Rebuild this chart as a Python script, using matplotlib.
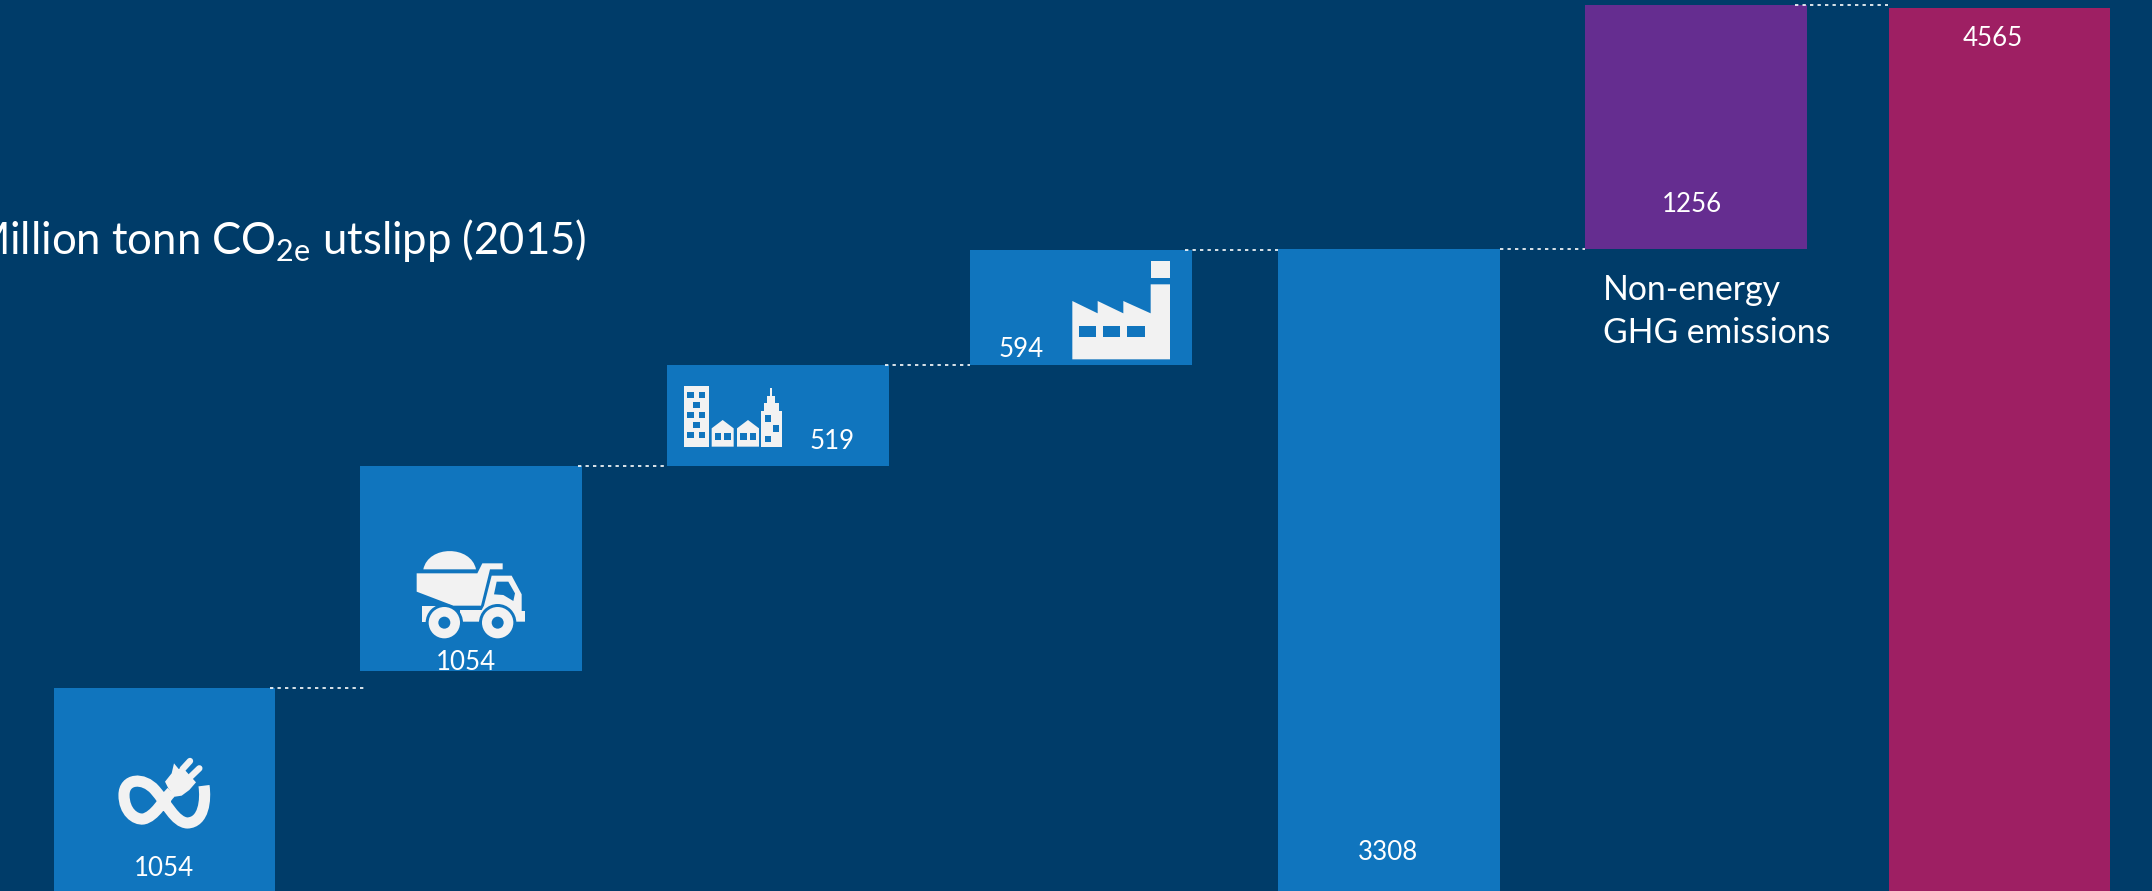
import matplotlib
matplotlib.use('Agg')
import matplotlib.pyplot as plt
from matplotlib.patches import Circle, PathPatch, Polygon, Rectangle
from matplotlib.path import Path

plt.rcParams['font.family'] = ['Lato', 'DejaVu Sans']
plt.rcParams['mathtext.fontset'] = 'custom'
plt.rcParams['mathtext.rm'] = 'Lato'

# Waterfall values (million tonnes)
values = [1054, 1054, 519, 594, 3308, 1256, 4565]
starts = [0, 1137, 2191, 2710, 0, 3308, -15]
labels = ['1054', '1054', '519', '594', '3308', '1256', '4565']
ghg_label = 'Non-energy\nGHG emissions'
title = r'Million tonn CO$_{\mathrm{2e}}$ utslipp (2015)'

BG = '#003C69'
BLUE = '#1075BE'
PURPLE = '#652D90'
CRIMSON = '#9E1F63'
WHITE = '#F2F2F2'

colors = [BLUE, BLUE, BLUE, BLUE, BLUE, PURPLE, CRIMSON]

# layout in pixels
bar_left = [53.5, 360, 667, 970, 1278, 1585, 1888.5]
bar_w = 221.5
label_xy = [(163.5, 869), (466, 662), (832.5, 441.5), (1021, 349.5), (1388, 853), (1691.5, 205), (1992.5, 38)]
links = [(270, 365, 0), (578, 667, 1), (885, 970, 2), (1185, 1278, 3), (1500, 1585, 4), (1795, 1888, 5)]

fig = plt.figure(figsize=(21.52, 8.91), dpi=100, facecolor=BG)

ax = fig.add_axes([0, 0, 1, 1], facecolor=BG)
ax.set_xlim(0, 2152)
ax.set_ylim(7.9, 4588.6)
ax.axis('off')

for i in range(len(values)):
    ax.bar(bar_left[i], values[i], width=bar_w, bottom=starts[i], color=colors[i], align='edge', zorder=2)

# dotted links between the steps
for x0, x1, i in links:
    level = starts[i] + values[i]
    ax.plot([x0, x1], [level, level], color='white', lw=1.2, ls=(0, (2, 2.5)), zorder=3)

# second layer in pixel coords for icons and text
pix = fig.add_axes([0, 0, 1, 1], facecolor='none')
pix.set_xlim(0, 2152)
pix.set_ylim(891, 0)
pix.axis('off')


def pts(ox, oy, coords):
    return [(ox + x / 3, oy + y / 3) for x, y in coords]


def poly(ox, oy, coords, color=WHITE):
    pix.add_patch(Polygon(pts(ox, oy, coords), closed=True, fc=color, ec='none'))


def box(ox, oy, x, y, w, h, color=BLUE):
    pix.add_patch(Rectangle((ox + x / 3, oy + y / 3), w / 3, h / 3, fc=color, ec='none'))


def disc(ox, oy, x, y, r, color=WHITE):
    pix.add_patch(Circle((ox + x / 3, oy + y / 3), r / 3, fc=color, ec='none'))


def plug_icon(ox, oy):
    loop = [(312, 122), (318, 165), (312, 232), (262, 234), (225, 232), (200, 175), (165, 135),
            (130, 95), (72, 100), (72, 150), (72, 200), (105, 225), (130, 222),
            (165, 215), (190, 165), (215, 140)]
    codes = [Path.MOVETO] + [Path.CURVE4] * 15
    pix.add_patch(PathPatch(Path(pts(ox, oy, loop), codes), fc='none', ec=WHITE, lw=8.0, capstyle='butt'))
    for a, b in [((248, 72), (270, 48)), ((272, 95), (298, 70))]:
        xs, ys = zip(*pts(ox, oy, [a, b]))
        pix.plot(xs, ys, color=WHITE, lw=4.6, solid_capstyle='round')
    poly(ox, oy, [(222, 55), (236, 72), (250, 70), (288, 112), (268, 135), (245, 152),
                  (225, 155), (205, 130), (195, 110), (215, 85)])


def truck_icon(ox, oy):
    dirt = [(70, 103), (85, 30), (213, 30), (228, 103), (70, 103)]
    dirt_codes = [Path.MOVETO, Path.CURVE4, Path.CURVE4, Path.CURVE4, Path.CLOSEPOLY]
    pix.add_patch(PathPatch(Path(pts(ox, oy, dirt), dirt_codes), fc=WHITE, ec='none'))
    poly(ox, oy, [(50, 115), (232, 115), (247, 85), (308, 85), (308, 103), (270, 103),
                  (243, 212), (160, 212), (50, 170)])
    poly(ox, oy, [(252, 212), (275, 122), (335, 122), (365, 178), (365, 228), (375, 228),
                  (375, 260), (180, 260), (180, 225), (245, 225)])
    poly(ox, oy, [(290, 140), (325, 140), (345, 175), (340, 198), (310, 180), (282, 178)], BLUE)
    box(ox, oy, 65, 212, 50, 48, WHITE)
    for x in (133, 293):
        disc(ox, oy, x, 263, 56, BLUE)
        disc(ox, oy, x, 263, 47)
        disc(ox, oy, x, 263, 18, BLUE)


def city_icon(ox, oy):
    box(ox, oy, 28, 33, 74, 182, WHITE)
    for x, y in [(37, 50), (71, 50), (54, 80), (37, 110), (71, 110), (54, 140), (37, 170), (71, 170)]:
        box(ox, oy, x, y, 20, 20)
    for x in (110, 186):
        poly(ox, oy, [(x, 215), (x, 160), (x + 33, 135), (x + 66, 160), (x + 66, 215)])
        box(ox, oy, x + 9, 175, 20, 20)
        box(ox, oy, x + 38, 175, 20, 20)
    poly(ox, oy, [(258, 215), (258, 108), (267, 108), (267, 85), (277, 85), (277, 62), (285, 62),
                  (285, 40), (292, 40), (292, 62), (300, 62), (300, 85), (311, 85), (311, 108),
                  (320, 108), (320, 215)])
    for x, y in [(269, 121), (293, 151), (269, 182)]:
        box(ox, oy, x, y, 19, 19)


def factory_icon(ox, oy):
    box(ox, oy, 272, 32, 58, 53, WHITE)
    poly(ox, oy, [(37, 328), (37, 153), (113, 190), (113, 153), (190, 190), (190, 153), (272, 190),
                  (272, 103), (330, 103), (330, 328)])
    for x in (56, 129, 202):
        box(ox, oy, x, 227, 52, 35)


plug_icon(100, 745)
truck_icon(400, 535)
city_icon(675, 375)
factory_icon(1060, 250)

for (x, y), s in zip(label_xy, labels):
    pix.text(x, y, s, color='white', fontsize=18.6, ha='center', va='center')

pix.text(1603, 311.5, ghg_label, color='white', fontsize=24.3, ha='left', va='center', linespacing=1.46)
pix.text(586, 241, title, color='white', fontsize=31.4, ha='right', va='center')

fig.savefig('out.png', dpi=100, facecolor=BG)
